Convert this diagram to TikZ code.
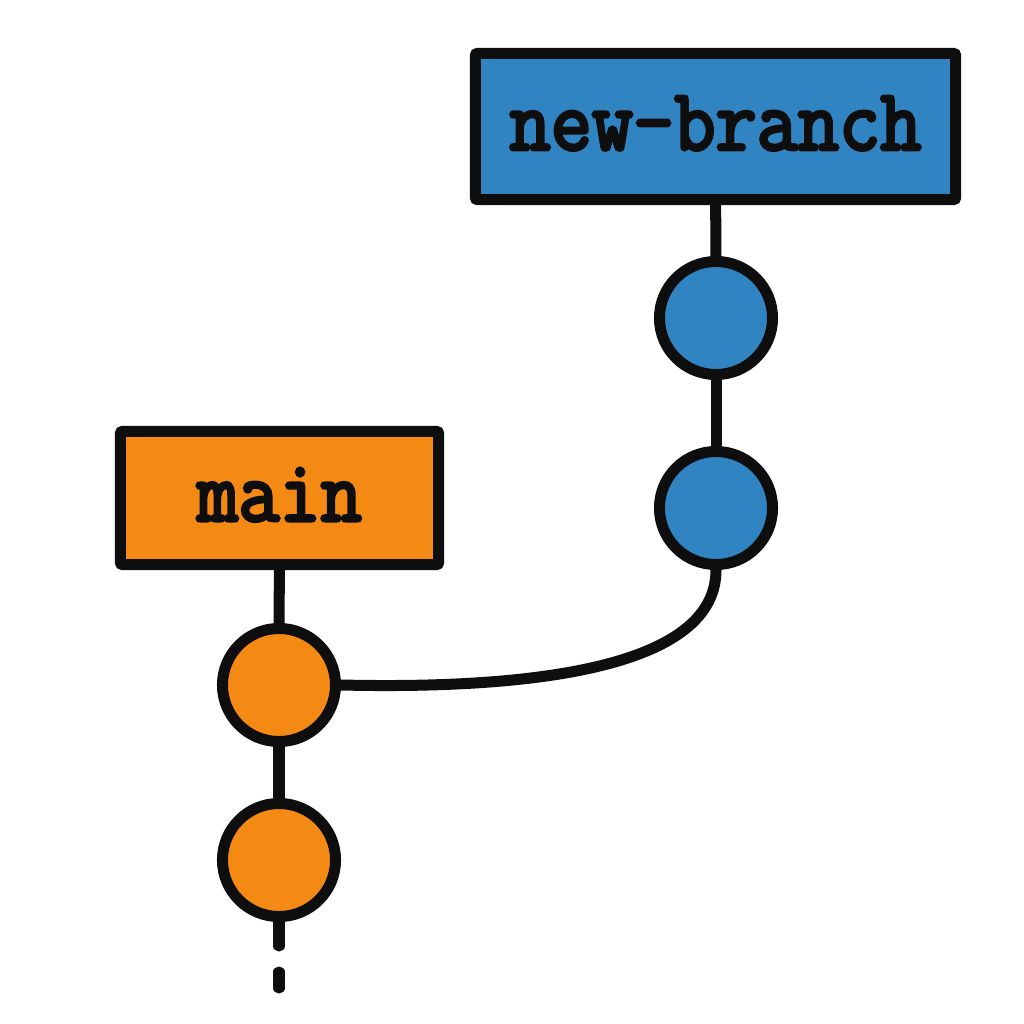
\documentclass[tikz,border=0pt]{standalone}
\usepackage{fontspec}
\newfontfamily\slabfont[FakeBold=3.6,FakeStretch=0.91]{Latin Modern Mono}
\usetikzlibrary{positioning}
\definecolor{branchblue}{HTML}{3084C2}
\definecolor{mainorange}{HTML}{F48914}
\definecolor{inkblack}{HTML}{0E0E0E}
\begin{document}
\begin{tikzpicture}[x=0.01cm,y=-0.01cm]
	\useasboundingbox (0,0) rectangle (1024,1024);
	\tikzset{every path/.style={line width=0.11cm,draw=inkblack}}
	\begin{scope}[every node/.style={circle,draw=inkblack,line width=0.11cm,minimum size=1.13cm,inner sep=0pt}]
	    \node[fill=branchblue] (c4) at (716,318) {};
	    \node[fill=branchblue] (c3) at (716,508) {};
	    \node[fill=mainorange] (c2) at (279,685) {};
	    \node[fill=mainorange] (c1) at (279,860) {};
	\end{scope}
	\begin{scope}[every node/.style={rectangle,draw=inkblack,line width=0.11cm,rounded corners=0.02cm,inner sep=0pt,text depth=0.07cm,font=\slabfont\fontsize{25pt}{27pt}\selectfont,text=inkblack}]
	    \node[fill=branchblue,minimum width=4.8cm,minimum height=1.46cm] (newbranch) at (715.5,126.5) {new-branch};
	    \node[fill=mainorange,minimum width=3.18cm,minimum height=1.33cm] (main) at (279.5,498) {main};
	\end{scope}
	\coordinate (tail1) at (279,946);
	\coordinate (tail2) at (279,972);
	\coordinate (tail3) at (279,988);
	\draw (newbranch) -- (c4);
	\draw (c4) -- (c3);
	\draw (main) -- (c2);
	\draw (c2) -- (c1);
	\draw[line cap=round] (c1) -- (tail1);
	\draw[line cap=round] (tail2) -- (tail3);
	\draw (c2.east) .. controls (560,690) and (716,660) .. (c3.south);
\end{tikzpicture}
\end{document}
